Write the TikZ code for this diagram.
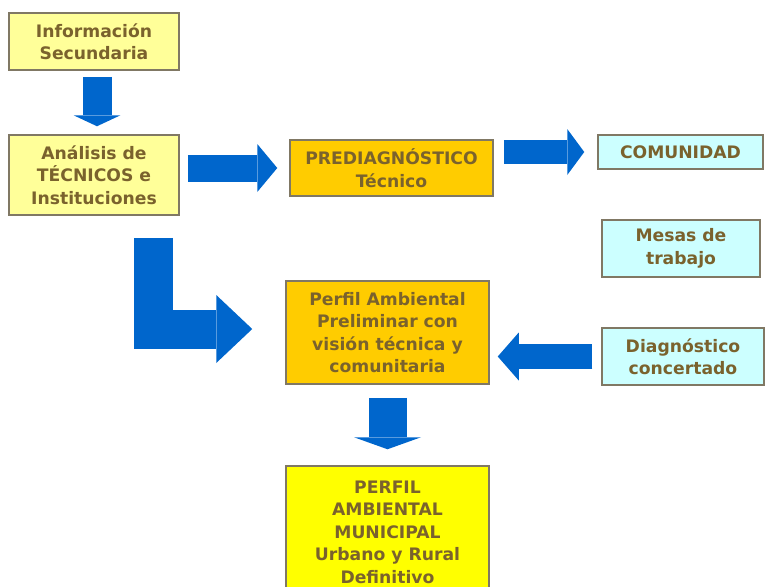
\documentclass[tikz,border=0pt]{standalone}
\usepackage{fontspec}
\setmainfont{DejaVu Sans}
\usetikzlibrary{arrows.meta}
\definecolor{paleyellow}{HTML}{FFFF99}
\definecolor{orangebox}{HTML}{FFCC00}
\definecolor{brightyellow}{HTML}{FFFF00}
\definecolor{palecyan}{HTML}{CCFFFF}
\definecolor{arrowblue}{HTML}{0066CC}
\definecolor{textolive}{RGB}{122,98,45}
\definecolor{boxborder}{RGB}{128,120,100}

\begin{document}
\begin{tikzpicture}[x=1pt,y=-1pt,
  box/.style={draw=boxborder,line width=1.5pt,text=textolive,align=center,inner sep=0pt,
    font=\bfseries\fontsize{17.2}{22.5}\selectfont},
  fat/.style={draw=arrowblue,line join=miter}]
  \clip (0,0) rectangle (765,586);

  \node[box,fill=paleyellow,minimum width=170pt,minimum height=57pt] at(94,41.5)(info){Información\\Secundaria};
  \node[box,fill=paleyellow,minimum width=170pt,minimum height=80pt] at(94,175)(analisis){Análisis de\\TÉCNICOS e\\Instituciones};
  \node[box,fill=orangebox,minimum width=203pt,minimum height=56pt] at(391.5,168)(prediag){PREDIAGNÓSTICO\\Técnico};
  \node[box,fill=palecyan,minimum width=165pt,minimum height=34pt] at(680.5,152)(comunidad){COMUNIDAD};
  \node[box,fill=palecyan,minimum width=158pt,minimum height=57pt] at(681,248.5)(mesas){Mesas de\\trabajo};
  \node[box,fill=palecyan,minimum width=162pt,minimum height=57pt] at(683,356.5)(diag){Diagnóstico\\concertado};
  \node[box,fill=orangebox,minimum width=203pt,minimum height=103pt] at(387.5,332.5)(perfil){Perfil Ambiental\\Preliminar con\\visión técnica y\\comunitaria};
  \node[box,fill=brightyellow,minimum width=203pt,minimum height=132pt] at(387.5,532)(final){PERFIL\\AMBIENTAL\\MUNICIPAL\\Urbano y Rural\\Definitivo};

  \draw[fat,line width=29pt,-{Triangle[length=11pt,width=47pt,line width=0pt]},shorten <=6pt,shorten >=8pt]([xshift=3pt]info.south) -- ([xshift=3pt]analisis.north);
  \draw[fat,line width=27pt,-{Triangle[length=20pt,width=48pt,line width=0pt]},shorten <=8pt,shorten >=12pt](analisis.east |- prediag.west) -- (prediag.west);
  \draw[fat,line width=24pt,-{Triangle[length=17pt,width=46pt,line width=0pt]},shorten <=10pt,shorten >=13pt](prediag.east |- comunidad.west) -- (comunidad.west);
  \draw[fat,line width=25pt,-{Triangle[length=21pt,width=48pt,line width=0pt]},shorten <=9pt,shorten >=8pt](diag.west) -- (diag.west -| perfil.east);
  \draw[fat,line width=39pt,-{Triangle[length=36pt,width=68pt,line width=0pt]},shorten <=22pt,shorten >=33pt]([xshift=59pt]analisis.south) |- ([yshift=3.5pt]perfil.west);
  \draw[fat,line width=38pt,-{Triangle[length=12pt,width=67pt,line width=0pt]},shorten <=13pt,shorten >=16pt](perfil.south) -- (final.north);

\end{tikzpicture}
\end{document}
